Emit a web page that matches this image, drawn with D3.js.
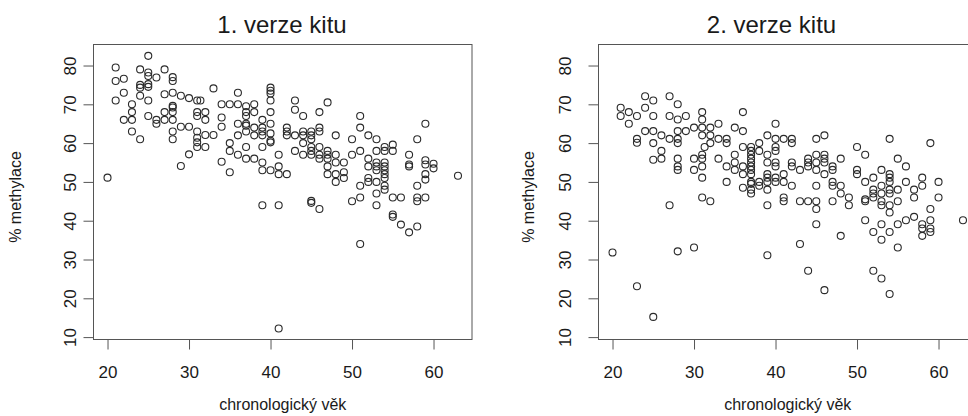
<!DOCTYPE html>
<html lang="cs">
<head>
<meta charset="utf-8">
<style>
  body { margin: 0; background: #fff; }
  text { font-family: "Liberation Sans", Arial, sans-serif; fill: #1a1a1a; }
</style>
</head>
<body>
<script src="https://d3js.org/d3.v7.min.js"></script>
<script>
	width = 968;
	height = 416;

	// chronological age (x) and % methylation values measured at that age
	const kit1Ages = [20, 21, 22, 23, 24, 25, 26, 27, 28, 29, 30, 31, 31.4, 32, 33, 34, 35, 36, 37, 38, 39, 40,
		41, 42, 43, 44, 45, 46, 47, 48, 49, 50, 51, 52, 53, 54, 55, 56, 57, 58, 59, 60, 63];
	const kit1Meth = [
		[51.1],
		[79.5, 76, 71],
		[76.6, 73, 66],
		[70, 68, 66, 63],
		[79, 75, 74.3, 72.2, 61],
		[82.5, 78.2, 77.3, 75.2, 74.5, 71, 67],
		[76.9, 66, 65],
		[79, 72.6, 68, 66],
		[77, 76, 73, 69.6, 69.2, 68, 66, 63, 61],
		[72.2, 64.2, 54.1],
		[71.6, 64.2, 57.1],
		[71, 68, 67, 63, 61.4, 60.2, 59],
		[71],
		[68, 66, 62.1, 59],
		[74.1, 62.1],
		[70, 66.6, 64.2, 55.2],
		[70, 60, 58, 52.5],
		[73, 70, 65, 62, 57],
		[69.5, 68, 67, 65, 64.5, 63, 59, 56],
		[70, 68, 64, 62, 56],
		[66, 64, 63, 62, 59, 55, 53, 44],
		[74.3, 73.5, 72.8, 71, 68, 65, 62.5, 60.6, 60.2, 53],
		[57, 54, 52, 44, 12.2],
		[64, 63, 62, 52],
		[71, 68.6, 62, 58],
		[67, 63, 62, 60, 57],
		[63, 62, 61, 59, 58, 57, 45.1, 44.6],
		[68, 64, 63, 59, 57, 56, 43],
		[70.5, 58, 57, 56, 54, 52],
		[62, 57, 55, 52, 50],
		[55, 52.5, 51],
		[61, 57, 45],
		[67, 64, 58, 49, 46, 34],
		[62, 56, 54, 51, 50],
		[61, 58, 55, 54, 53, 50, 47, 44],
		[59, 58, 55, 54, 53, 52, 51, 49, 48],
		[59.6, 58, 46, 41.6, 41],
		[46, 39],
		[57, 54.5, 54, 37],
		[61, 49, 46, 45, 38.5],
		[65, 55.6, 54.5, 52, 50.6, 46],
		[54.7, 53.5],
		[51.6]
	];

	const kit2Ages = [20, 21, 22, 23, 24, 25, 26, 27, 28, 29, 30, 31, 31.3, 32, 33, 34, 35, 36, 37, 38, 39, 40,
		41, 42, 43, 44, 45, 46, 47, 48, 49, 50, 51, 52, 53, 54, 55, 56, 57, 58, 59, 60, 63];
	const kit2Meth = [
		[31.8],
		[69.1, 67],
		[68, 65],
		[67, 61.1, 60.1, 23.1],
		[72.1, 69.1, 63.1],
		[71, 67, 63.1, 60, 55.7, 15.2],
		[62, 58, 56],
		[72.1, 67, 61.1, 44],
		[70, 66.1, 63.1, 61.1, 60, 56, 54, 53.1, 32.1],
		[67, 63.1],
		[64, 56, 53.1, 33.1],
		[68, 66.1, 64, 62, 57, 56, 54, 51.1, 46],
		[59],
		[64, 62, 60, 45],
		[65, 61.1, 56],
		[61.1, 60, 54, 50],
		[64, 57, 55, 53.1],
		[68, 63.1, 59, 54, 52, 48.5],
		[59, 58, 57, 56, 55, 54, 53.1, 52, 50, 49.5, 48, 47],
		[60, 58, 50, 49],
		[62, 57, 55, 52, 51.1, 50, 48, 44, 31.1],
		[65, 61.1, 59, 58, 55, 54, 51.1, 50],
		[61.1, 52, 50, 46, 45],
		[61.1, 60, 55, 54, 49],
		[53.1, 45, 34],
		[56, 55, 54, 45, 27.1],
		[61.1, 57, 55, 53.1, 49, 45, 43, 39.1],
		[62, 57, 56, 55, 52, 22.1],
		[54, 53.1, 50, 49, 45],
		[56, 49, 47, 36.1],
		[46, 44],
		[59, 53.1, 52],
		[57, 50, 45.5, 45, 40.1],
		[51.1, 48, 47, 46, 37.1, 27.1],
		[53.1, 49, 47, 45, 44, 39.1, 35.1, 25.1],
		[61.1, 52, 51.1, 50, 48, 47, 44, 42.1, 37.1, 21.1],
		[56, 48, 45, 39.1, 33.1],
		[54, 50, 40.1],
		[48, 46, 41],
		[51.1, 49, 39.1, 38, 36.1],
		[60, 43, 40.1, 38, 37.1],
		[50, 46],
		[40.1]
	];

	const titles = ["1. verze kitu", "2. verze kitu"];
	const xTicks = [20, 30, 40, 50, 60];
	const yTicks = [10, 20, 30, 40, 50, 60, 70, 80];
	const xLabel = "chronologický věk";
	const yLabel = "% methylace";

	function toPoints(ages, meth) {
		return ages.flatMap((a, i) => meth[i].map(v => ({ age: a, value: v })));
	}

	const panels = [
		{ title: titles[0], pts: toPoints(kit1Ages, kit1Meth), left: 93.5, right: 472, titleX: 282, yTickX: -18, yLabelX: 20.5 },
		{ title: titles[1], pts: toPoints(kit2Ages, kit2Meth), left: 598.5, right: 977, titleX: 771.5, yTickX: -28, yLabelX: 534 }
	];

	const plotTop = 44.5, plotBottom = 339.5;

	const svg = d3.select("body")
		.append("svg")
		.attr("width", width)
		.attr("height", height);

	panels.forEach(p => {
		const x = d3.scaleLinear().domain([18.28, 64.72]).range([p.left, p.right]);
		const y = d3.scaleLinear().domain([9.38, 85.42]).range([plotBottom, plotTop]);

		const g = svg.append("g");

		g.append("text")
			.attr("x", p.titleX)
			.attr("y", 33)
			.attr("text-anchor", "middle")
			.style("font-size", "24px")
			.text(p.title);

		// x axis
		const xa = g.append("g")
			.attr("transform", `translate(0,${plotBottom})`)
			.call(d3.axisBottom(x).tickValues(xTicks).tickSize(10).tickPadding(16));
		xa.select(".domain").remove();
		xa.selectAll("line").attr("stroke", "#555");
		xa.selectAll("text").style("font-size", "17px").attr("fill", "#1a1a1a");

		// y axis, labels turned like in R
		const ya = g.append("g")
			.attr("transform", `translate(${p.left},0)`)
			.call(d3.axisLeft(y).tickValues(yTicks).tickSize(10));
		ya.select(".domain").remove();
		ya.selectAll("line").attr("stroke", "#555");
		ya.selectAll("text")
			.attr("x", null)
			.attr("dy", null)
			.attr("text-anchor", "middle")
			.attr("transform", `translate(${p.yTickX},0) rotate(-90)`)
			.style("font-size", "17px")
			.attr("fill", "#1a1a1a");

		g.append("rect")
			.attr("x", p.left)
			.attr("y", plotTop)
			.attr("width", p.right - p.left)
			.attr("height", plotBottom - plotTop)
			.attr("fill", "none")
			.attr("stroke", "#555");

		g.append("text")
			.attr("x", (p.left + p.right) / 2)
			.attr("y", 410)
			.attr("text-anchor", "middle")
			.style("font-size", "16px")
			.text(xLabel);

		g.append("text")
			.attr("transform", `translate(${p.yLabelX},197) rotate(-90)`)
			.attr("text-anchor", "middle")
			.style("font-size", "16px")
			.text(yLabel);

		g.selectAll("circle")
			.data(p.pts)
			.join("circle")
			.attr("cx", d => x(d.age))
			.attr("cy", d => y(d.value))
			.attr("r", 3.5)
			.attr("fill", "none")
			.attr("stroke", "#2a2a2a")
			.attr("stroke-width", 1.1);
	});
</script>
</body>
</html>
